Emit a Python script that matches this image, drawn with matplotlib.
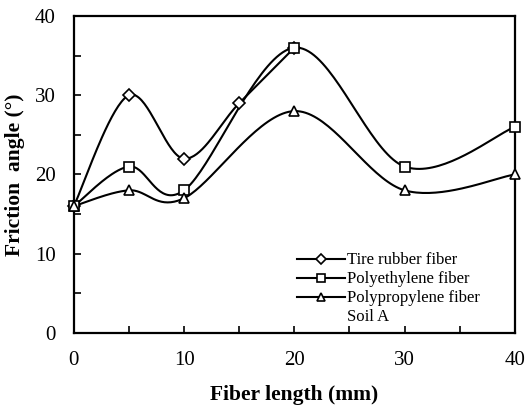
import numpy as np
import matplotlib
matplotlib.use("Agg")
import matplotlib.pyplot as plt
from matplotlib.lines import Line2D

plt.rcParams['font.family'] = ['Liberation Serif', 'DejaVu Serif']

tire_x = [0, 5, 10, 15, 20]
tire_y = [16, 30, 22, 29, 36]
pe_x = [0, 5, 10, 20, 30, 40]
pe_y = [16, 21, 18, 36, 21, 26]
pp_x = [0, 5, 10, 20, 30, 40]
pp_y = [16, 18, 17, 28, 18, 20]


def smooth(x, y, n=40):
    # Excel-like Catmull-Rom smoothing between the data points
    x = np.asarray(x, float)
    y = np.asarray(y, float)
    px = np.concatenate([[x[0]], x, [x[-1]]])
    py = np.concatenate([[y[0]], y, [y[-1]]])
    xs, ys = [], []
    t = np.linspace(0, 1, n)
    for i in range(1, len(px) - 2):
        p0, p1, p2, p3 = [np.array([px[j], py[j]]) for j in (i - 1, i, i + 1, i + 2)]
        m1 = (p2 - p0) / 2
        m2 = (p3 - p1) / 2
        h00 = 2 * t**3 - 3 * t**2 + 1
        h10 = t**3 - 2 * t**2 + t
        h01 = -2 * t**3 + 3 * t**2
        h11 = t**3 - t**2
        pts = (np.outer(h00, p1) + np.outer(h10, m1) + np.outer(h01, p2) + np.outer(h11, m2))
        xs.extend(pts[:, 0])
        ys.extend(pts[:, 1])
    return xs, ys


fig = plt.figure(figsize=(5.27, 4.11), dpi=100)
ax = fig.add_axes([0.140, 0.190, 0.837, 0.771])

series = [(tire_x, tire_y, 'D', 6, "Tire rubber fiber"),
          (pe_x, pe_y, 's', 6.5, "Polyethylene fiber"),
          (pp_x, pp_y, '^', 6.5, "Polypropylene fiber")]
handles = []
for x, y, m, ms, lab in series:
    sx, sy = smooth(x, y)
    ax.plot(sx, sy, color='black', lw=1.5, zorder=2)
    ax.plot(x, y, ls='none', marker=m, ms=ms, mfc='white', mec='black', mew=1.2, zorder=3, clip_on=False)
    handles.append(Line2D([], [], color='black', lw=1.5, marker=m, ms=ms * 0.85, mfc='white', mec='black', mew=1.2, label=lab))
handles.append(Line2D([], [], ls='none', label="Soil A"))

ax.set_xlim(0, 40)
ax.set_ylim(0, 40)
ax.set_xticks([0, 10, 20, 30, 40])
ax.set_xticks([5, 15, 25, 35], minor=True)
ax.set_yticks([0, 10, 20, 30, 40])
ax.set_yticks([5, 15, 25, 35], minor=True)
ax.tick_params(which='both', direction='in', width=1.2, length=5, labelsize=15)
ax.tick_params(axis='x', pad=13)
ax.tick_params(axis='y', pad=13)
for s in ax.spines.values():
    s.set_linewidth(1.6)

ax.set_xlabel("Fiber length (mm)", fontsize=15.5, fontweight='bold', labelpad=11)
ax.set_ylabel("Friction  angle (°)", fontsize=15.5, fontweight='bold', labelpad=7)

ax.legend(handles=handles, loc='lower right', bbox_to_anchor=(0.937, 0.0), frameon=False,
          fontsize=12, handlelength=2.9, handletextpad=0.1, labelspacing=0.18, borderaxespad=0.05)

fig.savefig("out.png", dpi=100)
